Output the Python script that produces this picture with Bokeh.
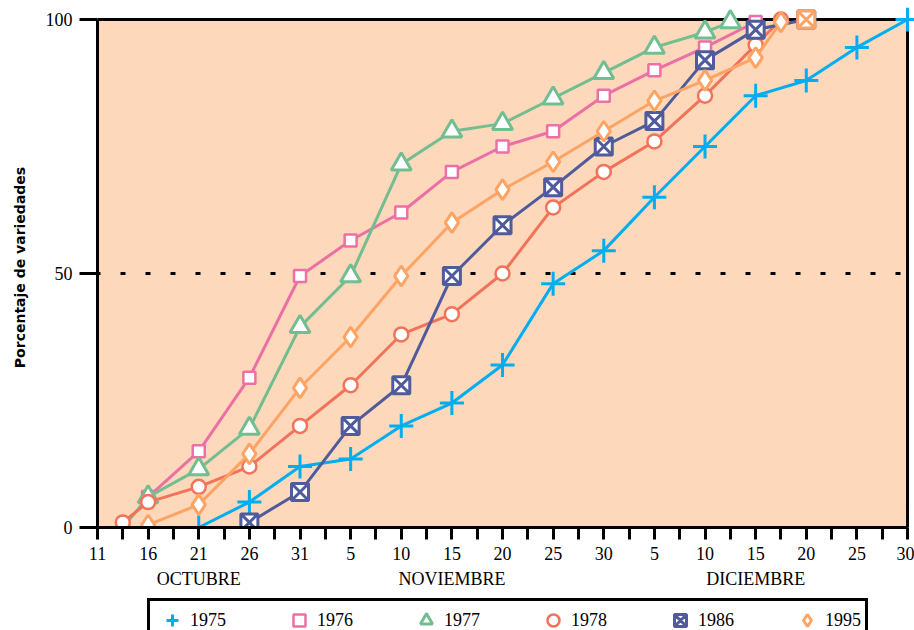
from bokeh.plotting import figure
from bokeh.layouts import column
from bokeh.models import FixedTicker, LinearAxis, Legend, LegendItem, Range1d, BoxAnnotation
from bokeh.embed import file_html
from bokeh.resources import INLINE

# x values: day number counted from 11 October (0 = 11 Oct, 20 = 31 Oct, 50 = 30 Nov, 80 = 30 Dec)
x_tick_days = [0, 5, 10, 15, 20, 25, 30, 35, 40, 45, 50, 55, 60, 65, 70, 75, 80]
x_tick_labels = ["11", "16", "21", "26", "31", "5", "10", "15", "20", "25", "30",
                 "5", "10", "15", "20", "25", "30"]
month_names = ["OCTUBRE", "NOVIEMBRE", "DICIEMBRE"]
month_label_days = [10, 35, 65]
y_ticks = [0, 50, 100]
y_title = "Porcentaje de variedades"
reference_pct = 50

days_1975 = [10, 15, 20, 25, 30, 35, 40, 45, 50, 55, 60, 65, 70, 75, 80]
pct_1975 = [0, 5, 12, 13.5, 20, 24.5, 32, 48, 54.5, 65, 75, 85, 88, 94.5, 100]

days_1976 = [5, 10, 15, 20, 25, 30, 35, 40, 45, 50, 55, 60, 65]
pct_1976 = [6, 15, 29.5, 49.5, 56.5, 62, 70, 75, 78, 85, 90, 94.5, 99.5]

days_1977 = [2.5, 5, 10, 15, 20, 25, 30, 35, 40, 45, 50, 55, 60, 62.5]
pct_1977 = [0, 6, 11.5, 19.5, 39.5, 49.5, 71.5, 78, 79.5, 84.5, 89.5, 94.5, 97.5, 99.5]

days_1978 = [2.5, 5, 10, 15, 20, 25, 30, 35, 40, 45, 50, 55, 60, 65, 67.5]
pct_1978 = [1, 5, 8, 12, 20, 28, 38, 42, 50, 63, 70, 76, 85, 95, 100]

days_1986 = [15, 20, 25, 30, 35, 40, 45, 50, 55, 60, 65, 70]
pct_1986 = [1, 7, 20, 28, 49.5, 59.5, 67, 75, 80, 92, 98, 100]

days_1995 = [5, 10, 15, 20, 25, 30, 35, 40, 45, 50, 55, 60, 65, 67.5]
pct_1995 = [0.5, 4.5, 14.5, 27.5, 37.5, 49.5, 60, 66.5, 72, 78, 84, 88, 92.5, 99.5]

PEACH = "#FDD8BB"
C1975 = "#00AEEF"
C1976 = "#EC70A6"
C1977 = "#72BE90"
C1978 = "#F3735A"
C1986 = "#4F5B9B"
C1995 = "#FDA464"
SERIF = "Liberation Serif"

x0, x1 = x_tick_days[0], x_tick_days[-1]
y0, y1 = y_ticks[0], y_ticks[-1]
# small headroom so that markers at 100 % / 30 Dec are not cut by the frame
p = figure(width=914, height=596, output_backend="svg", toolbar_location=None,
           x_range=Range1d(x0, x1 + (x1 - x0) * 0.0086),
           y_range=Range1d(y0, y1 + (y1 - y0) * 0.0236),
           min_border_left=97, min_border_right=0, min_border_top=7, min_border_bottom=69,
           background_fill_color="white", border_fill_color="white",
           outline_line_color=None)
p.xgrid.visible = False
p.ygrid.visible = False

p.add_layout(BoxAnnotation(left=x0, right=x1, bottom=y0, top=y1, fill_color=PEACH,
                           fill_alpha=1.0, line_color="black", line_alpha=1.0, line_width=3,
                           level="underlay"))

xa = p.xaxis[0]
minor = [(a + b) / 2 for a, b in zip(x_tick_days[:-1], x_tick_days[1:])]
xa.ticker = FixedTicker(ticks=x_tick_days, minor_ticks=minor)
xa.bounds = (x0, x1)
xa.major_label_overrides = {d: l for d, l in zip(x_tick_days, x_tick_labels)}
xa.axis_line_width = 3
xa.axis_line_color = "black"
xa.major_tick_line_width = 3
xa.minor_tick_line_width = 3
xa.major_tick_line_color = "black"
xa.minor_tick_line_color = "black"
xa.major_tick_in = 0
xa.major_tick_out = 12
xa.minor_tick_in = 0
xa.minor_tick_out = 12
xa.major_label_text_font = SERIF
xa.major_label_text_font_size = "18px"
xa.major_label_text_color = "black"
xa.major_label_standoff = 7

ma = LinearAxis(ticker=FixedTicker(ticks=month_label_days, minor_ticks=[]),
                major_label_overrides={d: m for d, m in zip(month_label_days, month_names)},
                axis_line_color=None, major_tick_line_color=None, minor_tick_line_color=None,
                major_tick_in=0, major_tick_out=0, minor_tick_in=0, minor_tick_out=0,
                major_label_standoff=6, major_label_text_font=SERIF,
                major_label_text_font_size="18px", major_label_text_color="black")
p.add_layout(ma, "below")

ya = p.yaxis[0]
ya.ticker = FixedTicker(ticks=y_ticks, minor_ticks=[])
ya.bounds = (y0, y1)
ya.axis_line_width = 3
ya.axis_line_color = "black"
ya.major_tick_line_width = 3
ya.major_tick_line_color = "black"
ya.major_tick_in = 0
ya.major_tick_out = 18
ya.minor_tick_line_color = None
ya.major_label_text_font = SERIF
ya.major_label_text_font_size = "18px"
ya.major_label_text_color = "black"
ya.major_label_standoff = 7
ya.axis_label = y_title
ya.axis_label_text_font = "DejaVu Sans"
ya.axis_label_text_font_style = "bold"
ya.axis_label_text_font_size = "14px"
ya.axis_label_text_color = "black"
ya.axis_label_standoff = 15

# dotted 50 % reference line across the plotting box
p.segment(x0=[x0], y0=[reference_pct], x1=[x1], y1=[reference_pct], line_color="black",
          line_width=3, line_dash="5 20", line_dash_offset=2)

styles = [
    ("1975", days_1975, pct_1975, C1975, "cross", 24, 3),
    ("1976", days_1976, pct_1976, C1976, "square", 12, 2.5),
    ("1977", days_1977, pct_1977, C1977, "triangle", 20, 3),
    ("1978", days_1978, pct_1978, C1978, "circle", 14, 2.5),
    ("1986", days_1986, pct_1986, C1986, "square_x", 17, 3),
    ("1995", days_1995, pct_1995, C1995, "diamond", 20, 3),
]

for label, xs, ys, col, marker, size, lw in styles:
    p.line(xs, ys, line_color=col, line_width=3)
    p.scatter(xs, ys, marker=marker, size=size, line_color=col, fill_color="white",
              line_width=lw)

# last 1986 point is drawn in the 1995 colour in the original
p.scatter([days_1986[-1]], [pct_1986[-1]], marker="square_x", size=17, line_color=C1995,
          fill_color="white", line_width=3)

# legend strip below the chart (cut off at the bottom edge as in the original)
lf = figure(width=914, height=34, output_backend="svg", toolbar_location=None,
            x_axis_location=None, y_axis_location=None,
            min_border_left=0, min_border_right=0, min_border_top=0, min_border_bottom=0,
            outline_line_color=None, background_fill_color="white", border_fill_color="white",
            x_range=Range1d(0, 1), y_range=Range1d(0, 1))
lf.xgrid.visible = False
lf.ygrid.visible = False
items = []
for label, xs, ys, col, marker, size, lw in styles:
    # same series data; it lies outside this strip's range, only the legend swatch shows
    r = lf.scatter(xs, ys, marker=marker, size=size, line_color=col, fill_color="white",
                   line_width=lw)
    items.append(LegendItem(label=label, renderers=[r]))

legend = Legend(items=items, orientation="horizontal", location=(50, -12),
                padding=4, glyph_width=36, glyph_height=30, label_standoff=0, spacing=55,
                label_text_font=SERIF, label_text_font_size="18px", label_text_color="black",
                border_line_color="black", border_line_alpha=1.0, border_line_width=3,
                background_fill_color="white", background_fill_alpha=1.0, margin=0)
lf.add_layout(legend, "center")

layout = column(p, lf, spacing=0)
open("out.html", "w").write(file_html(layout, INLINE))
